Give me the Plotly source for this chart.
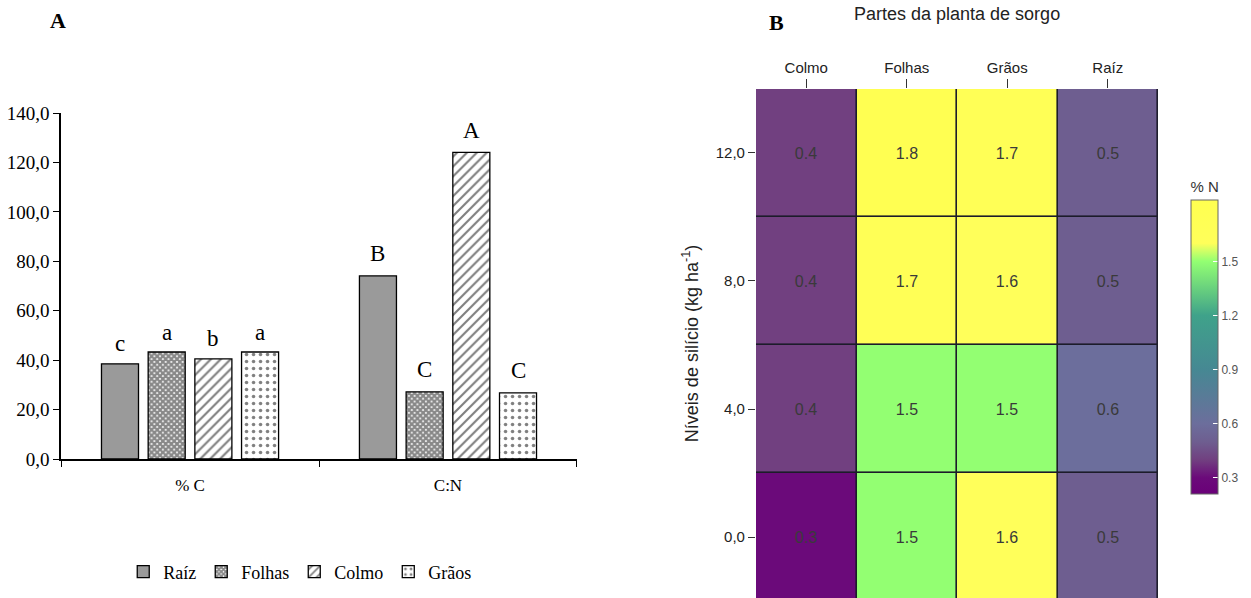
import plotly.graph_objects as go

# ---------------- Panel A data ----------------
groups = ["% C", "C:N"]
series_names = ["Raíz", "Folhas", "Colmo", "Grãos"]
raiz_vals = [38.5, 74.1]
folhas_vals = [43.3, 27.2]
colmo_vals = [40.5, 124.1]
graos_vals = [43.3, 26.8]
raiz_letters = ["c", "B"]
folhas_letters = ["a", "C"]
colmo_letters = ["b", "A"]
graos_letters = ["a", "C"]
y_ticks = [0, 20, 40, 60, 80, 100, 120, 140]
y_ticklabels = ["0,0", "20,0", "40,0", "60,0", "80,0", "100,0", "120,0", "140,0"]

# ---------------- Panel B data ----------------
parts = ["Colmo", "Folhas", "Grãos", "Raíz"]
si_levels = [0, 4, 8, 12]
si_labels = ["0,0", "4,0", "8,0", "12,0"]
n_colmo = [0.3, 0.4, 0.4, 0.4]
n_folhas = [1.5, 1.5, 1.7, 1.8]
n_graos = [1.6, 1.5, 1.6, 1.7]
n_raiz = [0.5, 0.6, 0.5, 0.5]
cbar_ticks = [0.3, 0.6, 0.9, 1.2, 1.5]

SERIF = "Liberation Serif"
SANS = "Liberation Sans"
BARGAP = 0.276

fig = go.Figure()

vals_list = [raiz_vals, folhas_vals, colmo_vals, graos_vals]
letters_list = [raiz_letters, folhas_letters, colmo_letters, graos_letters]
patterns = [
    dict(shape=""),
    dict(shape="x", size=4, solidity=0.8, fgcolor="#111", bgcolor="white"),
    dict(shape="/", size=7, solidity=0.3, fgcolor="black", bgcolor="white"),
    dict(shape=".", size=7, solidity=0.2, fgcolor="black", bgcolor="white"),
]
colors = ["#9a9a9a", "white", "white", "white"]

for i, name in enumerate(series_names):
    fig.add_trace(go.Bar(
        x=groups, y=vals_list[i], name=name,
        marker=dict(color=colors[i], pattern=patterns[i],
                    line=dict(color="black", width=1.3)),
        xaxis="x", yaxis="y", hoverinfo="skip",
    ))

# significance letters, positioned at each grouped bar's slot centre
n_series = len(series_names)
slot = (1 - BARGAP) / n_series
letter_annotations = []
for j in range(n_series):
    for g in range(len(groups)):
        letter_annotations.append(dict(
            text=letters_list[j][g], xref="x", yref="y",
            x=g + (j - (n_series - 1) / 2) * slot, y=vals_list[j][g],
            xanchor="center", yanchor="middle",
            yshift=22 if letters_list[j][g].isupper() else 20,
            showarrow=False, font=dict(family=SERIF, size=23, color="black"),
        ))

# heatmap
z = [[n_colmo[k], n_folhas[k], n_graos[k], n_raiz[k]] for k in range(len(si_levels))]
zmin, zmax = 0.21, 1.84


def pos(v):
    return (v - zmin) / (zmax - zmin)


colorscale = [
    [0.0, "#6a0078"],
    [pos(0.3), "#6b0a7a"],
    [pos(0.4), "#714080"],
    [pos(0.5), "#6e5e90"],
    [pos(0.6), "#6c6e9c"],
    [pos(0.9), "#468893"],
    [pos(1.2), "#3fa28a"],
    [pos(1.5), "#93ff72"],
    [pos(1.55), "#c8ff68"],
    [pos(1.6), "#ffff5a"],
    [1.0, "#ffff50"],
]

fig.add_trace(go.Heatmap(
    x=parts, y=si_levels, z=[[1] * len(parts) for _ in si_levels],
    colorscale=[[0, "#1c1c2a"], [1, "#1c1c2a"]], showscale=False,
    hoverinfo="skip", xaxis="x2", yaxis="y2",
))
fig.add_trace(go.Heatmap(
    x=parts, y=si_levels, z=z, zmin=zmin, zmax=zmax, colorscale=colorscale,
    xgap=1.6, ygap=1.6,
    texttemplate="%{z:.1f}", textfont=dict(family=SANS, size=16, color="#3a3a3a"),
    xaxis="x2", yaxis="y2",
    colorbar=dict(
        x=0.952, xanchor="left", xpad=0, y=0.4381, yanchor="middle", ypad=0,
        len=0.5284, lenmode="fraction", thickness=27,
        outlinewidth=1, outlinecolor="#666",
        tickvals=cbar_ticks, ticks="inside", tickcolor="white", ticklen=5,
        tickfont=dict(family=SANS, size=12, color="#555"),
        title=dict(text="% N", side="top", font=dict(family=SANS, size=15, color="#333")),
    ),
))

fig.update_layout(
    width=1251, height=598,
    margin=dict(l=0, r=0, t=0, b=0, autoexpand=False),
    paper_bgcolor="white", plot_bgcolor="white",
    barmode="group", bargap=BARGAP, bargroupgap=0.207,
    showlegend=True,
    legend=dict(orientation="h", x=0.24, xanchor="center", y=0.0435, yanchor="middle",
                font=dict(family=SERIF, size=18, color="black"),
                itemwidth=30, traceorder="normal"),
    xaxis=dict(domain=[0.0488, 0.4612], type="category", showline=True, linecolor="black",
               linewidth=1.5, ticks="outside", tickson="boundaries", ticklen=6,
               tickcolor="black", tickfont=dict(family=SERIF, size=17, color="black"),
               ticklabelstandoff=10,
               showgrid=False, zeroline=False, automargin=False),
    yaxis=dict(domain=[0.2324, 0.811], range=[0, 140], tickvals=y_ticks,
               ticktext=y_ticklabels, showline=True, linecolor="black", linewidth=1.5,
               ticks="outside", ticklen=6, tickcolor="black",
               tickfont=dict(family=SERIF, size=19, color="black"),
               showgrid=False, zeroline=False, automargin=False),
    xaxis2=dict(domain=[0.6043, 0.9257], type="category", side="top", range=[-0.5, 3.5],
                ticks="outside", ticklen=9, tickcolor="#333", showline=False,
                tickfont=dict(family=SANS, size=15, color="#222"),
                showgrid=False, zeroline=False, automargin=False, anchor="y2"),
    yaxis2=dict(domain=[0.0, 0.8512], range=[-1.906, 14], tickvals=si_levels,
                ticktext=si_labels, ticks="outside", ticklen=7, tickcolor="#333",
                tickfont=dict(family=SANS, size=15, color="#222"),
                title=dict(text="Níveis de silício (kg ha<sup>-1</sup>)",
                           font=dict(family=SANS, size=18, color="#222"), standoff=12),
                showgrid=False, zeroline=False, automargin=False, anchor="x2"),
    annotations=letter_annotations + [
        dict(text="<b>A</b>", x=0.0464, y=0.966, xref="paper", yref="paper",
             xanchor="center", yanchor="middle",
             showarrow=False, font=dict(family=SERIF, size=22, color="black")),
        dict(text="<b>B</b>", x=0.621, y=0.963, xref="paper", yref="paper",
             xanchor="center", yanchor="middle",
             showarrow=False, font=dict(family=SERIF, size=22, color="black")),
        dict(text="Partes da planta de sorgo", x=0.765, y=0.9766, xref="paper",
             yref="paper", xanchor="center", yanchor="middle", showarrow=False,
             font=dict(family=SANS, size=18, color="#222")),
    ],
)

fig.write_html(
    "out.html",
    config={"responsive": False},
    post_script=(
        "document.documentElement.style.overflow='hidden';"
        "document.body.style.margin='0';"
        "document.body.style.overflow='hidden';"
    ),
)
